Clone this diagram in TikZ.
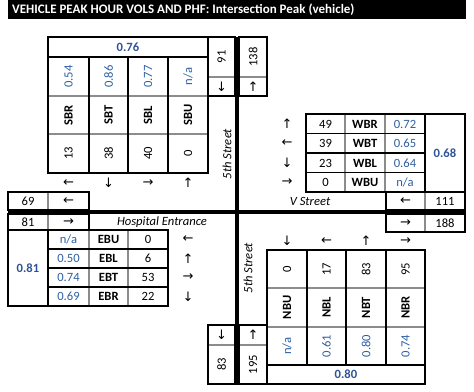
\documentclass[tikz,border=0pt]{standalone}
\usepackage{fontspec}
\setmainfont{Carlito}
\newfontfamily\arrowfont{DejaVu Sans}
\definecolor{phfblue}{HTML}{2F5496}
\definecolor{valblue}{HTML}{2E5FA3}
\definecolor{sepgray}{HTML}{8C8C8C}
\tikzset{
  cell/.style={inner sep=0pt, font=\fontsize{12.6}{14}\selectfont},
  lab/.style={inner sep=0pt, font=\fontsize{12.6}{14}\selectfont\bfseries},
  phf/.style={cell, text=valblue},
  tot/.style={inner sep=0pt, text=phfblue, font=\fontsize{12.6}{14}\selectfont\bfseries},
  arw/.style={inner sep=0pt, font=\arrowfont\fontsize{13}{14}\selectfont},
  street/.style={inner sep=0pt, font=\fontsize{12.6}{14}\selectfont\itshape},
  rot/.style={rotate=90},
  box/.style={draw=black, line width=1.6pt},
  blk/.style={draw=black, line width=1.6pt},
  sep/.style={draw=sepgray, line width=1.2pt},
  road/.style={draw=black, line width=4pt}
}
\begin{document}
\begin{tikzpicture}[x=1pt,y=-1pt]
\useasboundingbox (0,0) rectangle (474,391);
% title
\fill[black] (8,0) rectangle (466,19);
\node[anchor=west, inner sep=0pt, text=white, font=\fontsize{13}{14}\selectfont\bfseries] (title) at (12,9.5) {VEHICLE PEAK HOUR VOLS AND PHF: Intersection Peak (vehicle)};

% ---------- SB table ----------
\draw[sep] (48,96)--(208,96) (48,134)--(208,134);
\draw[blk] (89,57)--(89,173) (128,57)--(128,173) (168,57)--(168,173) (48,57)--(208,57);
\draw[box] (48,37) rectangle (208,173);
\node[tot] (sbphf) at (128,47) {0.76};
\node[phf,rot] (sbrp) at (68.5,76.5) {0.54};
\node[phf,rot] (sbtp) at (108.5,76.5) {0.86};
\node[phf,rot] (sblp) at (148,76.5) {0.77};
\node[phf,rot] (sbup) at (188,76.5) {n/a};
\node[lab,rot] (sbr) at (68.5,115) {SBR};
\node[lab,rot] (sbt) at (108.5,115) {SBT};
\node[lab,rot] (sbl) at (148,115) {SBL};
\node[lab,rot] (sbu) at (188,115) {SBU};
\node[cell,rot] (sbrv) at (68.5,153.5) {13};
\node[cell,rot] (sbtv) at (108.5,153.5) {38};
\node[cell,rot] (sblv) at (148,153.5) {40};
\node[cell,rot] (sbuv) at (188,153.5) {0};
\node[arw] (sbra) at (68.5,183) {←};
\node[arw] (sbta) at (108.5,183) {↓};
\node[arw] (sbla) at (148,183) {→};
\node[arw] (sbua) at (188,183) {↑};

% north boxes
\draw[sep] (208,77)--(235,77);
\draw[box] (208,37) rectangle (235,96);
\node[cell,rot] (nin) at (221.5,57) {91};
\node[arw] (nina) at (221.5,86.5) {↓};
\draw[sep] (239,77)--(267,77);
\draw[box] (239,37) rectangle (267,96);
\node[cell,rot] (nout) at (253,57) {138};
\node[arw] (nouta) at (253,86.5) {↑};
\node[street,rot] (fifthN) at (227,154) {5th Street};

% ---------- WB table ----------
\draw[sep] (345,114)--(345,192) (385,114)--(385,192);
\draw[blk] (425,114)--(425,192) (306,133.5)--(425,133.5) (306,153)--(425,153) (306,172.5)--(425,172.5);
\draw[box] (306,114) rectangle (465,192);
\node[arw] (wbra) at (287,124) {↑};
\node[arw] (wbta) at (287,143.5) {←};
\node[arw] (wbla) at (287,163) {↓};
\node[arw] (wbua) at (287,182) {→};
\node[cell] (wbrv) at (325.5,124) {49};
\node[cell] (wbtv) at (325.5,143.5) {39};
\node[cell] (wblv) at (325.5,163) {23};
\node[cell] (wbuv) at (325.5,182) {0};
\node[lab] (wbr) at (365,124) {WBR};
\node[lab] (wbt) at (365,143.5) {WBT};
\node[lab] (wbl) at (365,163) {WBL};
\node[lab] (wbu) at (365,182) {WBU};
\node[phf] (wbrp) at (405,124) {0.72};
\node[phf] (wbtp) at (405,143.5) {0.65};
\node[phf] (wblp) at (405,163) {0.64};
\node[phf] (wbup) at (405,182) {n/a};
\node[tot] (wbphf) at (445,153) {0.68};

% east boxes
\draw[sep] (425,192)--(425,210);
\draw[box] (386,192) rectangle (465,210);
\node[arw] (eina) at (405.5,201) {←};
\node[cell] (ein) at (445,201) {111};
\draw[sep] (425,214)--(425,232);
\draw[box] (386,214) rectangle (465,232);
\node[arw] (eouta) at (405.5,223) {→};
\node[cell] (eout) at (445,223) {188};
\node[street] (vst) at (310,201) {V Street};

% west boxes
\draw[sep] (48,192)--(48,210);
\draw[box] (8,192) rectangle (89,210);
\node[cell] (wout) at (28,201) {69};
\node[arw] (wouta) at (68.5,201) {←};
\draw[sep] (48,214)--(48,230);
\draw[box] (8,214) rectangle (89,230);
\node[cell] (win) at (28,222) {81};
\node[arw] (wina) at (68.5,222) {→};
\node[street] (hosp) at (162,222) {Hospital Entrance};

% ---------- EB table ----------
\draw[sep] (89,230)--(89,306) (128,230)--(128,306);
\draw[blk] (48,230)--(48,306) (48,249)--(168,249) (48,268)--(168,268) (48,287)--(168,287);
\draw[box] (8,230) rectangle (168,306);
\node[tot] (ebphf) at (28,268) {0.81};
\node[phf] (ebup) at (68.5,239.5) {n/a};
\node[phf] (eblp) at (68.5,258.5) {0.50};
\node[phf] (ebtp) at (68.5,277.5) {0.74};
\node[phf] (ebrp) at (68.5,296.5) {0.69};
\node[lab] (ebu) at (108.5,239.5) {EBU};
\node[lab] (ebl) at (108.5,258.5) {EBL};
\node[lab] (ebt) at (108.5,277.5) {EBT};
\node[lab] (ebr) at (108.5,296.5) {EBR};
\node[cell] (ebuv) at (148,239.5) {0};
\node[cell] (eblv) at (148,258.5) {6};
\node[cell] (ebtv) at (148,277.5) {53};
\node[cell] (ebrv) at (148,296.5) {22};
\node[arw] (ebua) at (188,239.5) {←};
\node[arw] (ebla) at (188,258.5) {↑};
\node[arw] (ebta) at (188,277.5) {→};
\node[arw] (ebra) at (188,296.5) {↓};

% ---------- NB table ----------
\draw[sep] (267,288)--(425,288) (267,327)--(425,327);
\draw[blk] (307,250)--(307,365) (346,250)--(346,365) (386,250)--(386,365) (267,365)--(425,365);
\draw[box] (267,250) rectangle (425,384);
\node[arw] (nbua) at (287,241) {↓};
\node[arw] (nbla) at (326.5,241) {←};
\node[arw] (nbta) at (366,241) {↑};
\node[arw] (nbra) at (405.5,241) {→};
\node[cell,rot] (nbuv) at (287,269) {0};
\node[cell,rot] (nblv) at (326.5,269) {17};
\node[cell,rot] (nbtv) at (366,269) {83};
\node[cell,rot] (nbrv) at (405.5,269) {95};
\node[lab,rot] (nbu) at (287,307.5) {NBU};
\node[lab,rot] (nbl) at (326.5,307.5) {NBL};
\node[lab,rot] (nbt) at (366,307.5) {NBT};
\node[lab,rot] (nbr) at (405.5,307.5) {NBR};
\node[phf,rot] (nbup) at (287,346) {n/a};
\node[phf,rot] (nblp) at (326.5,346) {0.61};
\node[phf,rot] (nbtp) at (366,346) {0.80};
\node[phf,rot] (nbrp) at (405.5,346) {0.74};
\node[tot] (nbphf) at (346,374.5) {0.80};

% south boxes
\draw[sep] (208,345)--(235,345);
\draw[box] (208,325) rectangle (235,384);
\node[arw] (souta) at (221.5,335) {↓};
\node[cell,rot] (sout) at (221.5,364.5) {83};
\draw[sep] (239,345)--(267,345);
\draw[box] (239,325) rectangle (267,384);
\node[arw] (sina) at (253,335) {↑};
\node[cell,rot] (sin) at (253,364.5) {195};
\node[street,rot] (fifthS) at (248,268) {5th Street};

% roads
\draw[road] (8,212)--(466,212);
\draw[road] (237,37)--(237,385);
\end{tikzpicture}
\end{document}
